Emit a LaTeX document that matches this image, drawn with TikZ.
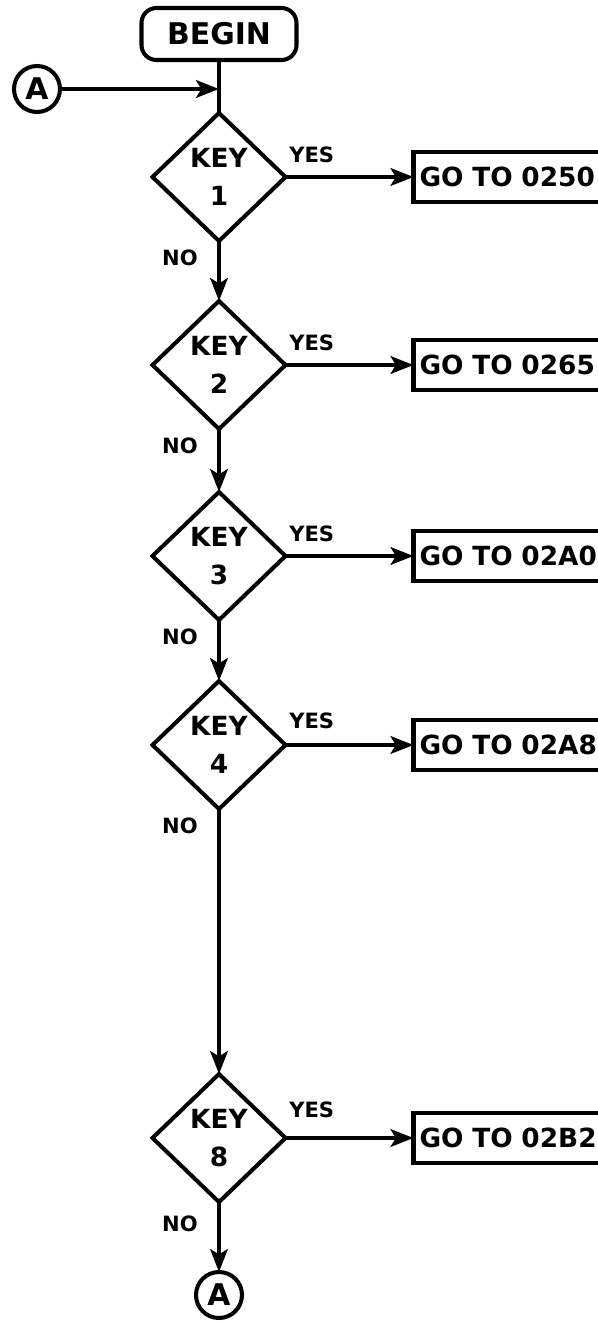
\documentclass[tikz,border=0pt]{standalone}
\usepackage{fontspec}
\setmainfont{DejaVu Sans}
\usepackage{tikz}
\usetikzlibrary{positioning,arrows.meta,shapes.geometric}

\begin{document}
\begin{tikzpicture}[
  node distance=1.2cm,
  line width=2.3pt,
  terminal/.style={draw, rounded corners=0.3cm, outer sep=0pt, minimum width=3.1cm,
              minimum height=1.04cm, font=\fontsize{17}{20}\selectfont\bfseries},
  test/.style={draw, diamond, inner sep=0pt, outer sep=0pt, minimum width=2.66cm,
              minimum height=2.56cm, align=center, font=\fontsize{15}{22}\selectfont\bfseries},
  jump/.style={draw, outer sep=0pt, inner sep=0.12cm, text width=3.9cm, align=left,
              minimum height=1cm, font=\fontsize{15}{18}\selectfont\bfseries},
  conn/.style={draw, circle, inner sep=0pt, outer sep=0pt, minimum size=0.92cm,
              font=\fontsize{17}{19}\selectfont\bfseries},
  lbl/.style={inner sep=1pt, font=\fontsize{12}{14}\selectfont\bfseries},
  arr/.style={-{Stealth[length=13pt,width=10pt,inset=3pt]}}
]
\useasboundingbox (-4.38,0.68) rectangle (7.58,-25.78);
\node[terminal] (begin) at (0,0) {BEGIN};
\coordinate[below=0.58cm of begin] (join);
\node[conn, left=3.18cm of join] (a1) {A};
\node[test, below=1.06cm of begin] (d1) {KEY\\1};
\node[test, below=1.2cm of d1] (d2) {KEY\\2};
\node[test, below=1.26cm of d2] (d3) {KEY\\3};
\node[test, below=1.22cm of d3] (d4) {KEY\\4};
\node[test, below=5.3cm of d4] (d8) {KEY\\8};
\node[conn, below=1.4cm of d8] (a2) {A};
\node[jump, right=2.56cm of d1] (go1) {GO TO 0250};
\node[jump, right=2.56cm of d2] (go2) {GO TO 0265};
\node[jump, right=2.56cm of d3] (go3) {GO TO 02A0};
\node[jump, right=2.56cm of d4] (go4) {GO TO 02A8};
\node[jump, right=2.56cm of d8] (go8) {GO TO 02B2};
% flow down the keys
\draw (begin) -- (d1);
\draw[arr] (a1) -- (join);
\draw[arr] (d1) -- (d2);
\draw[arr] (d2) -- (d3);
\draw[arr] (d3) -- (d4);
\draw[arr] (d4) -- (d8);
\draw[arr] (d8) -- (a2);
% yes branches
\draw[arr] (d1) -- (go1);
\draw[arr] (d2) -- (go2);
\draw[arr] (d3) -- (go3);
\draw[arr] (d4) -- (go4);
\draw[arr] (d8) -- (go8);
\node[lbl, anchor=south west] (y1) at ([yshift=0.2cm]d1.east) {YES};
\node[lbl, anchor=south west] (y2) at ([yshift=0.2cm]d2.east) {YES};
\node[lbl, anchor=south west] (y3) at ([yshift=0.2cm]d3.east) {YES};
\node[lbl, anchor=south west] (y4) at ([yshift=0.25cm]d4.east) {YES};
\node[lbl, anchor=south west] (y8) at ([yshift=0.32cm]d8.east) {YES};
\node[lbl, anchor=north east] (n1) at ([xshift=-0.35cm,yshift=-0.1cm]d1.south) {NO};
\node[lbl, anchor=north east] (n2) at ([xshift=-0.35cm,yshift=-0.1cm]d2.south) {NO};
\node[lbl, anchor=north east] (n3) at ([xshift=-0.35cm,yshift=-0.1cm]d3.south) {NO};
\node[lbl, anchor=north east] (n4) at ([xshift=-0.35cm,yshift=-0.1cm]d4.south) {NO};
\node[lbl, anchor=north east] (n8) at ([xshift=-0.35cm,yshift=-0.2cm]d8.south) {NO};
\end{tikzpicture}
\end{document}
